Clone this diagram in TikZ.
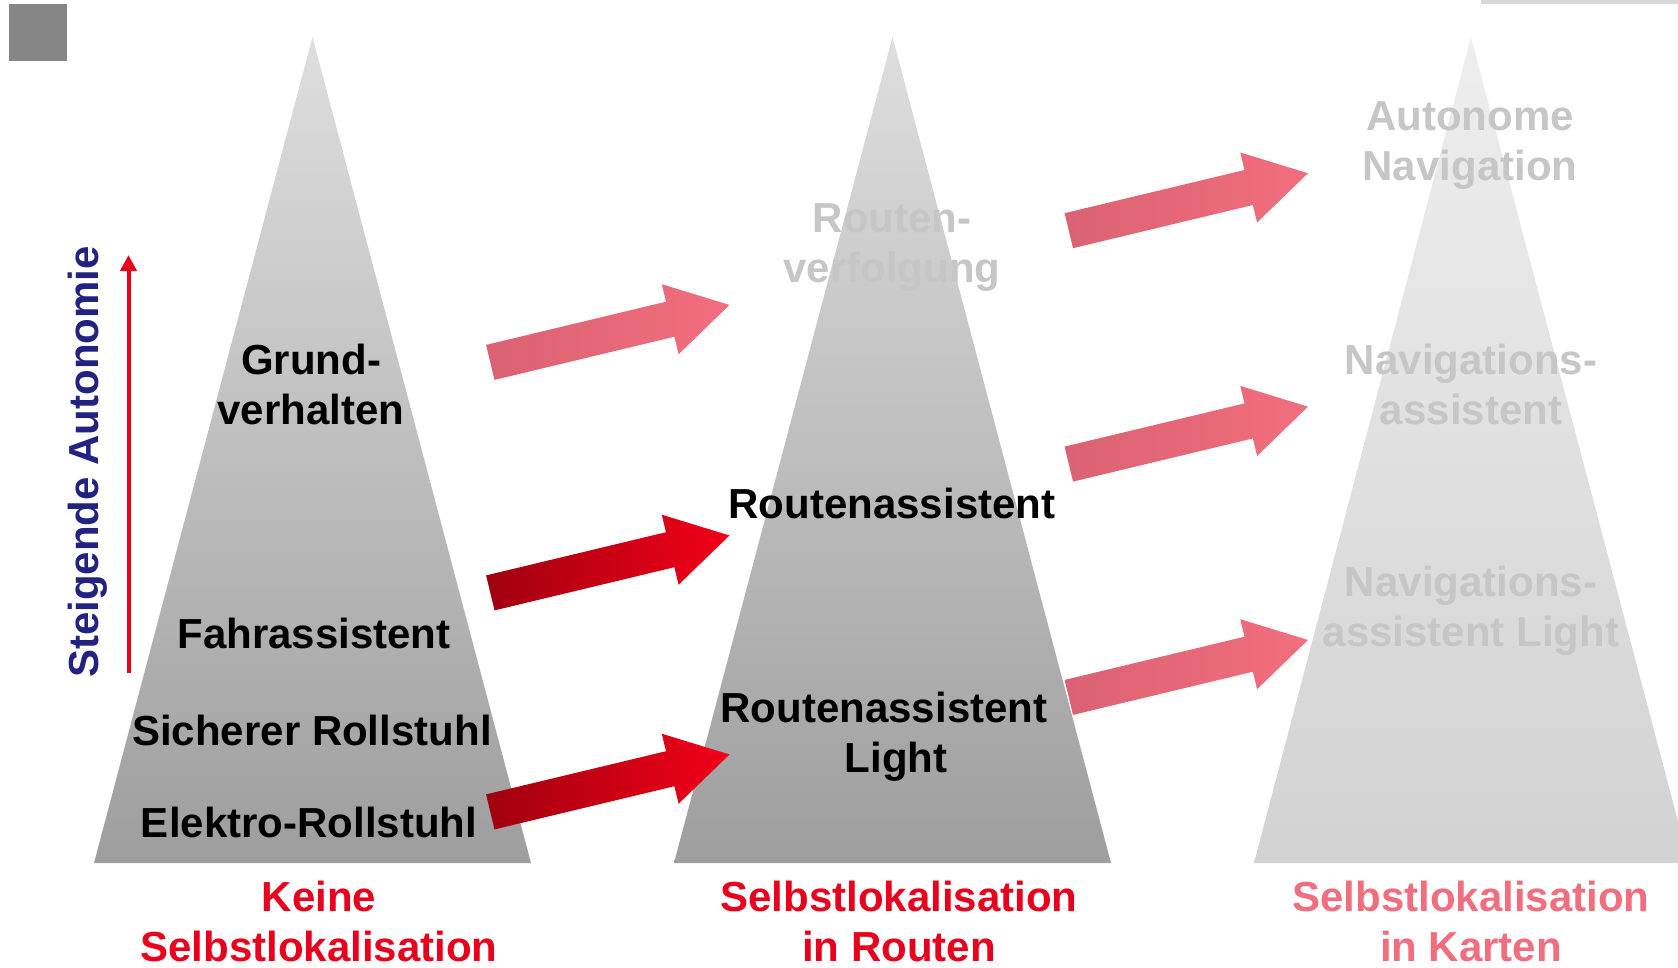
\documentclass[tikz,border=0pt]{standalone}
\usepackage{fontspec}
\setmainfont{Liberation Sans}
\usetikzlibrary{arrows.meta}

\definecolor{labelred}{RGB}{232,0,28}
\definecolor{fadered}{RGB}{240,110,125}
\definecolor{navyblue}{RGB}{34,34,128}
\definecolor{fadegray}{RGB}{198,198,198}

\tikzset{
  blockarrow/.pic={
    \path[pic actions] (0,-18) -- (185,-18) -- (185,-36) -- (246,0)
      -- (185,36) -- (185,18) -- (0,18) -- cycle;
  },
}

\begin{document}
\begin{tikzpicture}[x=1pt, y=-1pt,
  every node/.style = {align=center, font=\fontsize{42}{50}\selectfont\bfseries},
  pyramid/.style = {top color={rgb,255:red,222;green,222;blue,222},
    bottom color={rgb,255:red,158;green,158;blue,158}},
  ghostpyramid/.style = {top color={rgb,255:red,238;green,238;blue,238},
    bottom color={rgb,255:red,210;green,210;blue,210}},
  solidarrow/.style = {left color={rgb,255:red,160;green,0;blue,16},
    right color={rgb,255:red,242;green,0;blue,24}},
  fadearrow/.style = {left color={rgb,255:red,218;green,98;blue,114},
    right color={rgb,255:red,242;green,110;blue,126}},
  level/.style = {text=black},
  ghost/.style = {text=fadegray},
  basis/.style = {text=labelred},
  ]
  \useasboundingbox (0,0) rectangle (1678,968);
  \clip (0,0) rectangle (1678,968);

  % corner marks
  \fill[gray!95] (9,4) rectangle (67,61);
  \fill[gray!30] (1481,0) rectangle (1678,4);

  % pyramids
  \shade[pyramid] (312.5,37) -- (531,863) -- (94,863) -- cycle;
  \shade[pyramid] (892.5,37) -- (1111,863) -- (674,863) -- cycle;
  \shade[ghostpyramid] (1471,37) -- (1689,863) -- (1254,863) -- cycle;

  % levels without self localisation
  \node[level] (grund) at (311,384) {Grund-\\verhalten};
  \node[level] (fahr) at (314,633) {Fahrassistent};
  \node[level] (sicher) at (312,730) {Sicherer Rollstuhl};
  \node[level] (elektro) at (309,822) {Elektro-Rollstuhl};

  % levels with routes
  \node[ghost] (verfolgung) at (892,248) {Routen-\\verfolgung};
  \node[level] (routen) at (892,503) {Routenassistent};
  \node[level] (routenlight) at (884,737) {Routenassistent\\\hspace*{24pt}Light};

  % levels with maps
  \node[ghost] (autonav) at (1470,146) {Autonome\\Navigation};
  \node[ghost] (navassist) at (1471,384) {Navigations-\\assistent};
  \node[ghost] (navlight) at (1471,611) {Navigations-\\assistent Light};

  % bottom labels
  \node[basis] (keine) at (319,921) {Keine\\Selbstlokalisation};
  \node[basis] (inrouten) at (899,921) {Selbstlokalisation\\in Routen};
  \node[text=fadered] (inkarten) at (1471,921) {Selbstlokalisation\\in Karten};

  % autonomy axis
  \node[text=navyblue, rotate=90] (autonomie) at (88,462) {Steigende Autonomie};
  \coordinate (axbot) at (128.5,673);
  \coordinate (axtop) at (128.5,255);
  \draw[labelred, line width=4pt, -{Triangle[width=16pt,length=16pt]}] (axbot) -- (axtop);

  % transitions
  \pic[rotate=13.5, fadearrow] at (490.3,362.4) {blockarrow};
  \pic[rotate=13.5, solidarrow] at (490.3,592.9) {blockarrow};
  \pic[rotate=13.5, solidarrow] at (490.3,811.9) {blockarrow};
  \pic[rotate=13.5, fadearrow] at (1068.8,230.7) {blockarrow};
  \pic[rotate=13.5, fadearrow] at (1068.8,464.1) {blockarrow};
  \pic[rotate=13.5, fadearrow] at (1068.8,697.4) {blockarrow};
\end{tikzpicture}
\end{document}
